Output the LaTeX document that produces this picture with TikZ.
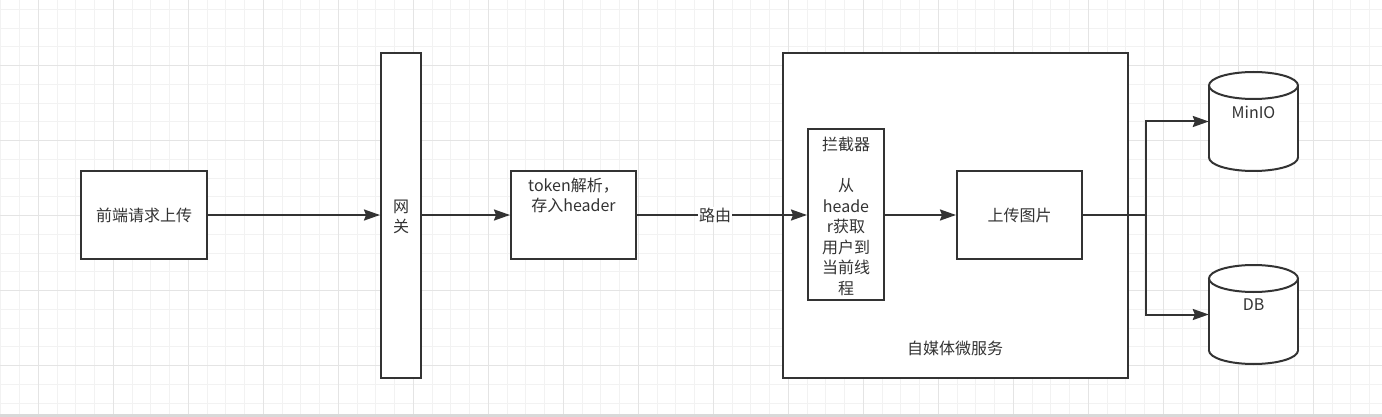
\documentclass[tikz,border=0pt]{standalone}
\usepackage{fontspec}
\setmainfont{Noto Sans CJK SC}
\usetikzlibrary{arrows.meta,calc}
\definecolor{ln}{HTML}{333333}
\definecolor{tx}{HTML}{333333}
\definecolor{gminor}{HTML}{F2F2F2}
\definecolor{gmajor}{HTML}{E4E4E4}
\tikzset{
  box/.style={draw=ln, line width=2pt, fill=white, rectangle, inner sep=0pt},
  txt/.style={text=tx, font=\fontsize{16}{20.5}\selectfont, align=center, inner sep=0pt},
  ghost/.style={draw=none, rectangle, inner sep=0pt},
  arr/.style={draw=ln, line width=2pt, -{Stealth[length=16pt,width=11pt,inset=2pt]}},
  plain/.style={draw=ln, line width=2pt},
}
\begin{document}
\begin{tikzpicture}[x=1pt,y=-1pt]
\useasboundingbox (0,0) rectangle (1382,417);
\fill[white] (0,0) rectangle (1382,417);
% grid
\foreach \x in {0.83,19.58,...,1382} \draw[gminor, line width=1pt] (\x,0) -- (\x,417);
\foreach \y in {9.45,28.2,...,417} \draw[gminor, line width=1pt] (0,\y) -- (1382,\y);
\foreach \x in {38.33,113.33,...,1382} \draw[gmajor, line width=1pt] (\x,0) -- (\x,417);
\foreach \y in {65.7,140.7,...,417} \draw[gmajor, line width=1pt] (0,\y) -- (1382,\y);
\fill[gray!30] (0,413.5) rectangle (1382,417);

% nodes
\node[box, minimum width=126pt, minimum height=88pt] (front) at (144,215) {};
\node[txt] (fronttxt) at (front.center) {前端请求上传};
\node[box, minimum width=40pt, minimum height=325pt] (gw) at (401,215.5) {};
\node[txt] (gwtxt) at (401,217) {网\\关};
\node[box, minimum width=125pt, minimum height=88pt] (token) at (573.5,215) {};
\node[txt] (tokentxt) at (573.5,195.5) {token解析，\\存入header};
\node[box, minimum width=345pt, minimum height=325pt] (svc) at (955.5,215.5) {};
\node[txt] (svctxt) at (955,348) {自媒体微服务};
\node[box, minimum width=76pt, minimum height=171pt] (inter) at (846,214.5) {};
\node[txt] (intertxt) at (846,216.5) {拦截器\\ \\从\\heade\\r获取\\用户到\\当前线\\程};
\node[box, minimum width=125pt, minimum height=88pt] (upload) at (1019.5,215) {};
\node[txt] (uploadtxt) at (upload.center) {上传图片};

% cylinders
\foreach \t in {72,265} {
  \draw[plain, fill=white] (1253.5,{\t+85.5}) ellipse[x radius=44.5, y radius=13.5];
  \fill[white] (1209,{\t+13.5}) rectangle (1298,{\t+85.5});
  \draw[plain] (1209,{\t+13.5}) -- (1209,{\t+85.5}) (1298,{\t+13.5}) -- (1298,{\t+85.5});
  \draw[plain, fill=white] (1253.5,{\t+13.5}) ellipse[x radius=44.5, y radius=13.5];
}
\node[ghost, minimum width=89pt, minimum height=99pt] (minio) at (1253.5,121.5) {};
\node[ghost, minimum width=89pt, minimum height=99pt] (db) at (1253.5,314.5) {};
\node[txt] (miniotxt) at (1253.5,112) {MinIO};
\node[txt] (dbtxt) at (1253.5,305) {DB};

% connectors
\draw[arr] (front.east) -- (front.east -| gw.west);
\draw[arr] (token.west -| gw.east) -- (token.west);
\draw[arr] (token.east) -- node[pos=0.46, fill=white, txt, inner sep=1pt] (route) {路由} (token.east -| inter.west);
\draw[arr] (upload.west -| inter.east) -- (upload.west);
\coordinate (split) at (1146,215);
\draw[plain] (upload.east) -- (split);
\draw[arr] (split) |- (minio.west);
\draw[arr] (split) |- (db.west);
\end{tikzpicture}
\end{document}
